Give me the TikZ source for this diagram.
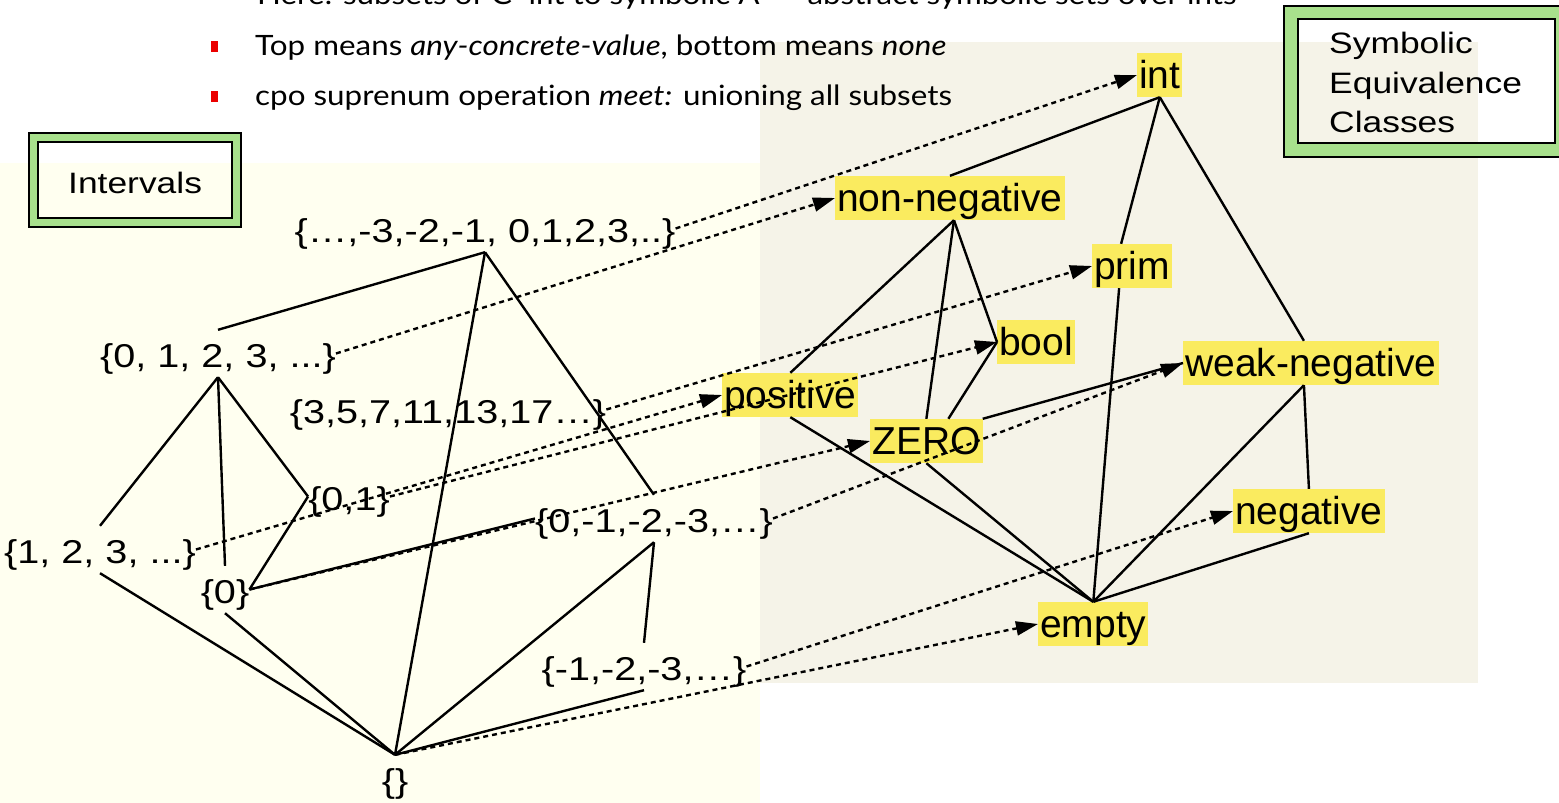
\documentclass[tikz,border=0pt]{standalone}
\usepackage{fontspec}
\setmainfont{Liberation Sans}
\newfontfamily\setfnt[FakeStretch=1.2]{Liberation Sans}
\newfontfamily\latofnt[FakeStretch=1.12,Ligatures=NoCommon]{Lato}
\usetikzlibrary{arrows.meta}
\definecolor{leftbg}{RGB}{255,255,240}
\definecolor{rightbg}{RGB}{245,243,232}
\definecolor{hl}{RGB}{250,235,95}
\definecolor{framegreen}{RGB}{168,224,140}
\definecolor{bulletred}{RGB}{235,0,0}
\begin{document}
\begin{tikzpicture}[x=1pt,y=-1pt,
  setnode/.style={inner sep=0pt, text height=37pt, text depth=10pt, anchor=base, font=\setfnt\fontsize{33}{38}\selectfont},
  sym/.style={fill=hl, inner xsep=2pt, inner ysep=0pt, text height=35pt, text depth=9pt, anchor=west, font=\fontsize{39}{44}\selectfont},
  edge/.style={line width=2.4pt},
  mapto/.style={line width=2.4pt, dash pattern=on 5pt off 4pt, -{Triangle[length=22pt,width=14pt]}},
  bul/.style={anchor=base west, inner sep=0pt, font=\latofnt\fontsize{28}{32}\selectfont},
  boxlabel/.style={inner sep=0pt, anchor=base west, font=\setfnt\fontsize{29.5}{34}\selectfont}
]
\useasboundingbox (0,0) rectangle (1559,803);
\clip (0,0) rectangle (1559,803);
\fill[white] (0,0) rectangle (1559,803);
% backgrounds
\fill[rightbg] (760,42) rectangle (1478,683);
\fill[leftbg] (0,163) rectangle (760,803);
% bullet text
\node[bul] (b1) at (257,5) {Here: subsets of C\textsuperscript{-} int to symbolic A\textsuperscript{-} -- abstract symbolic sets over ints};
\fill[bulletred] (211,41) rectangle (218,52);
\node[bul] (b2) at (255,55) {Top means \textit{any-concrete-value}, bottom means \textit{none}};
\fill[bulletred] (211,91) rectangle (218,102);
\node[bul] (b3) at (255,105) {cpo suprenum operation \textit{meet:} unioning all subsets};
% frames
\fill[framegreen, even odd rule] (29,133) rectangle (241,227) (38,142) rectangle (232,218);
\draw[line width=2pt] (29,133) rectangle (241,227);
\draw[line width=2pt] (38,142) rectangle (232,218);
\node[boxlabel] (intervals) at (68,193) {Intervals};
\fill[framegreen, even odd rule] (1284,6) rectangle (1575,157) (1298,19) rectangle (1555,143);
\draw[line width=2pt] (1284,6) rectangle (1575,157);
\draw[line width=2pt] (1298,19) rectangle (1555,143);
\node[boxlabel] (sym1) at (1329,53) {Symbolic};
\node[boxlabel] (sym2) at (1329,93) {Equivalence};
\node[boxlabel] (sym3) at (1329,132) {Classes};
% left nodes
\node[setnode] (T) at (485,242) {\{…,-3,-2,-1, 0,1,2,3,..\}};
\node[setnode] (P) at (218,367) {\{0, 1, 2, 3, ...\}};
\node[setnode] (Pr) at (448,423) {\{3,5,7,11,13,17…\}};
\node[setnode] (Z01) at (349,510) {\{0,1\}};
\node[setnode] (Pos) at (100,563) {\{1, 2, 3, ...\}};
\node[setnode] (Zr) at (225,603) {\{0\}};
\node[setnode] (NP) at (654,532) {\{0,-1,-2,-3,…\}};
\node[setnode] (Ng) at (644,680) {\{-1,-2,-3,…\}};
\node[setnode] (E) at (395,792) {\{\}};
% right nodes
\node[sym] (int) at (1137,75) {int};
\node[sym] (nn) at (835,198) {non-negative};
\node[sym] (prim) at (1092,266) {prim};
\node[sym] (bool) at (997,342) {bool};
\node[sym] (wn) at (1183,363) {weak-negative};
\node[sym] (pos) at (722,395) {positive};
\node[sym] (zero) at (870,441) {ZERO};
\node[sym] (neg) at (1233,511) {negative};
\node[sym] (empty) at (1038,624) {empty};
% left lattice
\draw[edge] (T.south) -- (P.north);
\draw[edge] (T.south) -- (E.north);
\draw[edge] (T.south) -- (NP.north);
\draw[edge] (P.south) -- (Pos.north);
\draw[edge] (P.south) -- (Zr.north);
\draw[edge] (P.south) -- (Z01.west);
\draw[edge] (Z01.west) -- (Zr.east);
\draw[edge] (Zr.east) -- (NP.west);
\draw[edge] (Pos.south) -- (E.north);
\draw[edge] (Zr.south) -- (E.north);
\draw[edge] (E.north) -- (NP.south);
\draw[edge] (NP.south) -- (Ng.north);
\draw[edge] (E.north) -- (Ng.south);
% right lattice
\draw[edge] (int.south) -- (nn.north);
\draw[edge] (int.south) -- ([xshift=-11pt]prim.north);
\draw[edge] ([xshift=-13pt]prim.south) -- (empty.north);
\draw[edge] (int.south) -- ([xshift=-7pt]wn.north);
\draw[edge] ([xshift=4pt]nn.south) -- (pos.north);
\draw[edge] ([xshift=4pt]nn.south) -- (zero.north);
\draw[edge] ([xshift=4pt]nn.south) -- (bool.west);
\draw[edge] (bool.west) -- ([xshift=22pt]zero.north);
\draw[edge] (pos.south) -- (empty.north);
\draw[edge] (zero.south) -- (empty.north);
\draw[edge] (zero.north east) -- (wn.west);
\draw[edge] ([xshift=-7pt]wn.south) -- (empty.north);
\draw[edge] ([xshift=-7pt]wn.south) -- (neg.north);
\draw[edge] (neg.south) -- (empty.north);
% mappings
\draw[mapto] (T.east) -- (int.west);
\draw[mapto] (P.east) -- (nn.west);
\draw[mapto] (Pr.east) -- (prim.west);
\draw[mapto] (Z01.east) -- (bool.west);
\draw[mapto] (Pos.east) -- (pos.west);
\draw[mapto] (Zr.east) -- (zero.west);
\draw[mapto] (NP.east) -- (wn.west);
\draw[mapto] (Ng.east) -- (neg.west);
\draw[mapto] (E.north) -- (empty.west);
\end{tikzpicture}
\end{document}
